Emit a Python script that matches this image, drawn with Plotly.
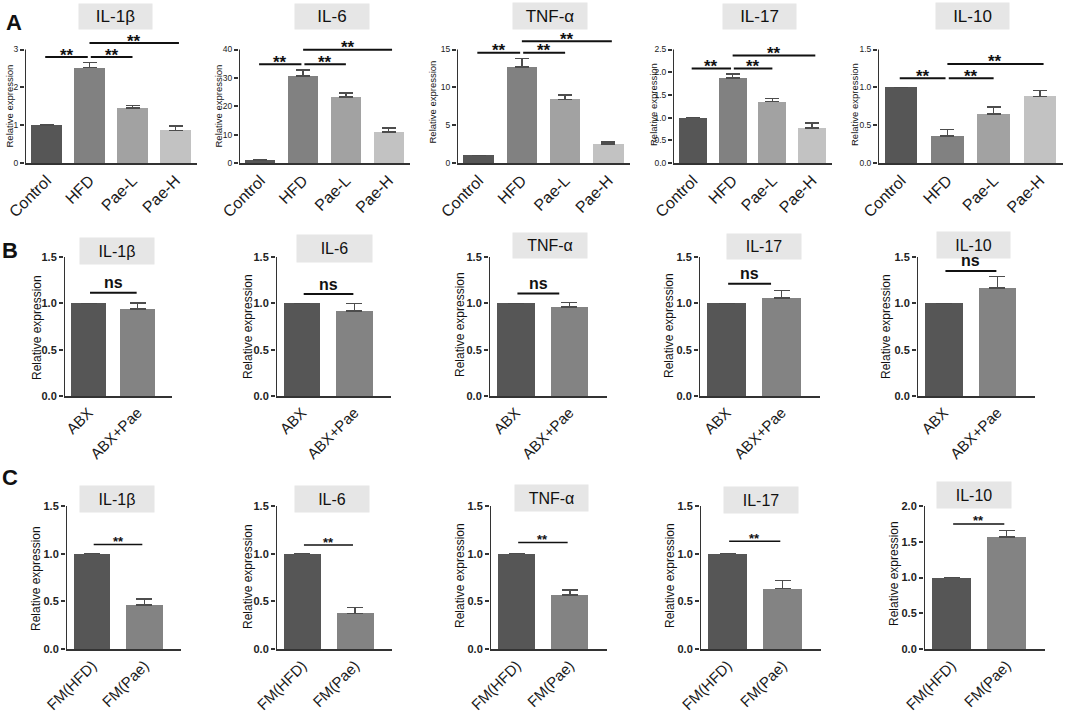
import plotly.graph_objects as go

W, H = 1065, 714
FONT = "Liberation Sans, Arial, sans-serif"

cytokines = ["IL-1β", "IL-6", "TNF-α", "IL-17", "IL-10"]

# A: diet groups
groups_a = ["Control", "HFD", "Pae-L", "Pae-H"]
means_a = [
    [1.0, 2.52, 1.45, 0.86],
    [1.0, 30.7, 23.2, 10.9],
    [1.0, 12.7, 8.4, 2.5],
    [1.0, 1.87, 1.35, 0.77],
    [1.0, 0.36, 0.65, 0.88],
]
sem_a = [
    [0, 0.14, 0.07, 0.12],
    [0, 2.1, 1.4, 1.4],
    [0, 1.1, 0.6, 0.3],
    [0, 0.09, 0.07, 0.11],
    [0, 0.08, 0.09, 0.08],
]
sig_low_a = [2.80, 34.8, 14.56, 2.08, 1.12]
sig_high_a = [3.17, 39.9, 16.09, 2.37, 1.31]
ymax_a = [3, 40, 15, 2.5, 1.5]
dtick_a = [1, 10, 5, 0.5, 0.5]

# B: antibiotic-treated mice
groups_b = ["ABX", "ABX+Pae"]
means_b = [[1.0, 0.94], [1.0, 0.92], [1.0, 0.96], [1.0, 1.06], [1.0, 1.165]]
sem_b = [[0, 0.065], [0, 0.08], [0, 0.05], [0, 0.08], [0, 0.125]]
sig_b = [1.115, 1.10, 1.105, 1.21, 1.35]
ymax_b = [1.5, 1.5, 1.5, 1.5, 1.5]

# C: faecal microbiota transplant
groups_c = ["FM(HFD)", "FM(Pae)"]
means_c = [[1.0, 0.46], [1.0, 0.374], [1.0, 0.565], [1.0, 0.634], [1.0, 1.565]]
sem_c = [[0, 0.066], [0, 0.06], [0, 0.055], [0, 0.086], [0, 0.09]]
sig_c = [1.097, 1.09, 1.116, 1.13, 1.75]
ymax_c = [1.5, 1.5, 1.5, 1.5, 2.0]

colors_a = ["#565656", "#818181", "#a2a2a2", "#c2c2c2"]
colors_bc = ["#565656", "#838383"]

# pixel geometry of each row: axis left/right, zero line, top tick, top of plot area
rows = [
    dict(xs=[(25, 197), (239, 410), (457, 630), (673, 832), (878, 1063)],
         y0=163, ytick=49.5, ytop=38,
         titles=[(115.5, 16.5, 73, 25), (332, 16.5, 74, 25), (550, 16, 74, 26),
                 (759.5, 16.5, 73, 25), (972.5, 16, 73, 26)],
         ytitles=[(8.5, 106), (217.5, 106), (432.5, 102), (653, 105), (854, 105)]),
    dict(xs=[(64, 172), (276, 391), (489, 607), (699, 820), (917, 1035)],
         y0=396, ytick=257, ytop=257,
         titles=[(117, 251, 74, 26), (334.5, 248, 75, 27), (550, 245.5, 74, 25),
                 (764, 246.5, 74, 25), (973.5, 245, 73, 26)],
         ytitles=[(37, 328), (248, 327), (460, 325), (669, 326), (886, 327)]),
    dict(xs=[(66, 181), (276, 392), (490, 607), (700, 821), (924, 1045)],
         y0=649, ytick=506, ytop=506,
         titles=[(117, 499, 74, 26), (332, 499, 74, 26), (551.5, 498, 73, 26),
                 (761, 500, 74, 26), (974, 495, 74, 26)],
         ytitles=[(36, 578), (248, 577), (460, 576), (670, 576), (894, 574)]),
]

fig = go.Figure()
shapes, annotations = [], []


def add_panel(k, row, p, groups, means, errs, colors, ymax, dtick, small):
    xa = "x" if k == 1 else "x%d" % k
    ya = "y" if k == 1 else "y%d" % k
    n = len(groups)
    xl, xr = row["xs"][p]
    xmin = -0.5
    xmax = n - 0.5 if n > 2 else 1.7
    fig.add_trace(go.Bar(
        x=list(range(n)), y=means, width=0.7,
        marker=dict(color=colors, line_width=0),
        error_y=dict(type="data", array=errs, arrayminus=[0] * n, symmetric=False,
                     color="#4d4d4d", thickness=1.5, width=7 if n > 2 else 8),
        xaxis=xa, yaxis=ya, showlegend=False, hoverinfo="skip",
    ))
    y0, yt, ytop = row["y0"], row["ytick"], row["ytop"]
    rng_top = ymax * (y0 - ytop) / (y0 - yt)
    nt = int(round(ymax / dtick))
    tickvals = [i * dtick for i in range(nt + 1)]
    fmt = ".1f" if dtick < 1 else "d"
    tick_font = dict(family=FONT, size=8.5 if small else 11, color="#222",
                     weight="normal" if small else "bold")
    fig.layout["xaxis%d" % k] = dict(
        domain=[xl / W, xr / W], range=[xmin, xmax], anchor=ya,
        tickvals=list(range(n)), ticktext=groups, tickangle=-45,
        tickfont=dict(family=FONT, size=16 if small else 15, color="#1a1a1a"),
        showline=True, linecolor="#333", linewidth=2, ticks="",
        showgrid=False, zeroline=False, fixedrange=True, automargin=False,
    )
    fig.layout["yaxis%d" % k] = dict(
        domain=[1 - y0 / H, 1 - ytop / H], range=[0, rng_top], anchor=xa,
        tickvals=tickvals, tickformat=fmt, ticks="outside", ticklen=4,
        tickwidth=1.5, tickcolor="#333", tickfont=tick_font,
        showline=False, showgrid=False, zeroline=False, fixedrange=True,
        automargin=False,
    )
    # y axis line stops at the top tick
    shapes.append(dict(type="line", xref=xa, yref=ya, x0=xmin, x1=xmin, y0=0, y1=ymax,
                       line=dict(color="#333", width=2)))
    # panel title box
    cx, cy, bw, bh = row["titles"][p]
    annotations.append(dict(
        text=cytokines[p], xref="paper", yref="paper", x=cx / W, y=1 - cy / H,
        xanchor="center", yanchor="middle", showarrow=False, width=bw, height=bh,
        bgcolor="#e6e6e6", borderpad=0,
        font=dict(family=FONT, size=17 if small else 16, color="#111"),
    ))
    tx, ty = row["ytitles"][p]
    annotations.append(dict(
        text="Relative expression", xref="paper", yref="paper", x=tx / W, y=1 - ty / H,
        xanchor="center", yanchor="middle", showarrow=False, textangle=-90,
        font=dict(family=FONT, size=9.5 if small else 12, color="#111"),
    ))
    return xa, ya


def bracket(xa, ya, x0, x1, y, label, size, shift, lw):
    shapes.append(dict(type="line", xref=xa, yref=ya, x0=x0, x1=x1, y0=y, y1=y,
                       line=dict(color="#111", width=lw)))
    annotations.append(dict(
        text=label, xref=xa, yref=ya, x=(x0 + x1) / 2, y=y, yshift=shift,
        xanchor="center", yanchor="middle", showarrow=False,
        font=dict(family=FONT, size=size, color="#111", weight="bold"),
    ))


k = 1
for p in range(5):
    xa, ya = add_panel(k, rows[0], p, groups_a, means_a[p], sem_a[p], colors_a,
                       ymax_a[p], dtick_a[p], True)
    bracket(xa, ya, -0.03, 0.96, sig_low_a[p], "**", 17, 2, 2)
    bracket(xa, ya, 1.03, 2.0, sig_low_a[p], "**", 17, 2, 2)
    bracket(xa, ya, 1.0, 3.08, sig_high_a[p], "**", 17, 2, 2)
    k += 1

ns_end_b = [0.98, 0.98, 0.81, 0.81, 0.98]
for p in range(5):
    xa, ya = add_panel(k, rows[1], p, groups_b, means_b[p], sem_b[p], colors_bc,
                       ymax_b[p], 0.5, False)
    bracket(xa, ya, 0.03, ns_end_b[p], sig_b[p], "ns", 16, 10, 2)
    k += 1

for p in range(5):
    xa, ya = add_panel(k, rows[2], p, groups_c, means_c[p], sem_c[p], colors_bc,
                       ymax_c[p], 0.5, False)
    bracket(xa, ya, 0.03, 0.96, sig_c[p], "**", 13, 3, 1.5)
    k += 1

for letter, lx, ly in [("A", 14, 22), ("B", 10, 251), ("C", 10, 478)]:
    annotations.append(dict(
        text=letter, xref="paper", yref="paper", x=lx / W, y=1 - ly / H,
        xanchor="center", yanchor="middle", showarrow=False,
        font=dict(family=FONT, size=22, color="#111", weight="bold"),
    ))

fig.update_layout(
    width=W, height=H, margin=dict(l=0, r=0, t=0, b=0, autoexpand=False),
    paper_bgcolor="white", plot_bgcolor="white",
    shapes=shapes, annotations=annotations, bargap=0,
)

# the page's default body margin would push the figure 8px off the window
fig.write_html("out.html", config={"displayModeBar": False},
               post_script="document.body.style.margin = '0';")
